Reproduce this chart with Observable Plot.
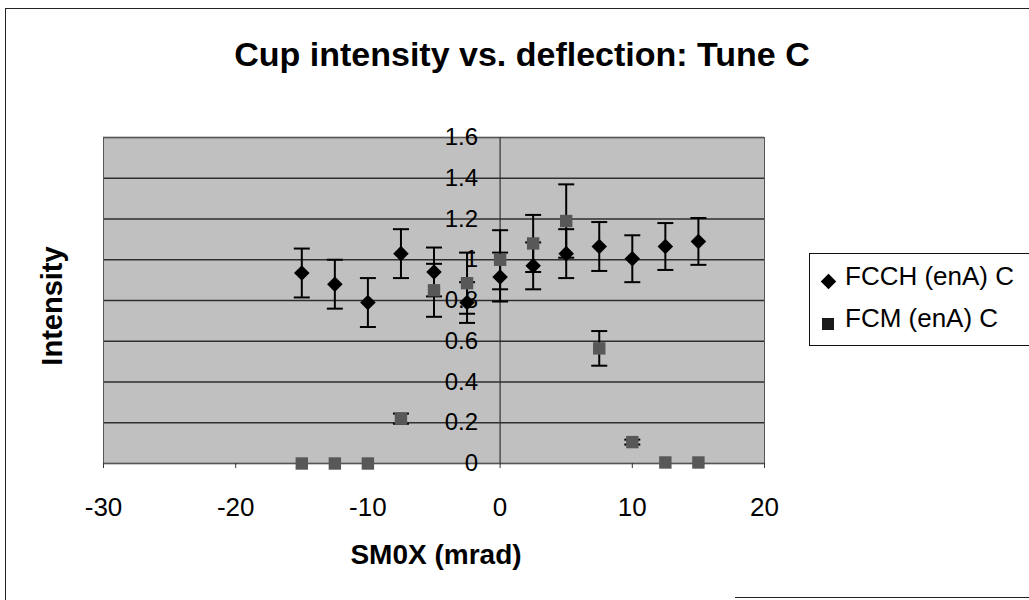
<!DOCTYPE html>
<html>
<head>
<meta charset="utf-8">
<script src="https://cdn.jsdelivr.net/npm/d3@7"></script>
<script src="https://cdn.jsdelivr.net/npm/@observablehq/plot@0.6"></script>
<style>
  html, body { margin: 0; padding: 0; background: #fff; overflow: hidden; }
  #wrap { position: relative; width: 1029px; height: 600px; font-family: Arial, "Liberation Sans", sans-serif; color: #000; }
  #wrap svg { position: absolute; left: 0; top: 0; }
  .abs { position: absolute; white-space: nowrap; line-height: 1; }
  .centered { transform: translate(-50%, -50%); }
</style>
</head>
<body>
<div id="wrap"></div>
<script>
// ---- data ----
const xs = [-15, -12.5, -10, -7.5, -5, -2.5, 0, 2.5, 5, 7.5, 10, 12.5, 15];
const fcchValues = [0.935, 0.88, 0.79, 1.03, 0.94, 0.79, 0.915, 0.97, 1.03, 1.065, 1.005, 1.065, 1.09];
const fcchErrors = [0.12, 0.12, 0.12, 0.12, 0.12, 0.10, 0.12, 0.115, 0.12, 0.12, 0.115, 0.115, 0.115];
const fcmValues  = [0, 0, 0, 0.22, 0.85, 0.885, 1.0, 1.08, 1.19, 0.565, 0.105, 0.005, 0.005];
const fcmErrors  = [0, 0, 0, 0.025, 0.13, 0.15, 0.145, 0.14, 0.18, 0.085, 0.012, 0, 0];
const xTicks = [-30, -20, -10, 0, 10, 20];
const yTicks = [0, 0.2, 0.4, 0.6, 0.8, 1, 1.2, 1.4, 1.6];
const seriesNames = ["FCCH (enA) C", "FCM (enA) C"];
const titleText = "Cup intensity vs. deflection: Tune C";
const xLabel = "SM0X (mrad)";
const yLabel = "Intensity";

const fcch = xs.map((x, i) => ({x, y: fcchValues[i], e: fcchErrors[i]}));
const fcm = xs.map((x, i) => ({x, y: fcmValues[i], e: fcmErrors[i]}));
const fcmBars = fcm.filter(d => d.e > 0);

const capSymbol = {draw(ctx) { ctx.moveTo(-8, 0); ctx.lineTo(8, 0); }};

const chart = Plot.plot({
  width: 1029,
  height: 600,
  marginLeft: 103,
  marginRight: 265,
  marginTop: 137,
  marginBottom: 137,
  style: {fontFamily: 'Arial, "Liberation Sans", sans-serif', background: "transparent", color: "#000"},
  x: {domain: [-30, 20], axis: null},
  y: {domain: [0, 1.6], axis: null},
  marks: [
    Plot.frame({fill: "#c0c0c0", stroke: "none"}),
    Plot.ruleY(yTicks, {stroke: "#2e2e2e", strokeWidth: 1.6}),
    Plot.frame({stroke: "#555", strokeWidth: 1}),
    Plot.ruleX([0], {stroke: "#333", strokeWidth: 1.2}),
    Plot.axisX({ticks: xTicks, tickSize: 5, tickPadding: 29, fontSize: 26, label: null, tickFormat: d => String(d), stroke: "#333"}),
    Plot.text(yTicks, {x: 0, y: d => d, text: d => String(d), textAnchor: "end", dx: -22, fontSize: 24, fill: "#000"}),
    // FCCH error bars and markers
    Plot.ruleX(fcch, {x: "x", y1: d => d.y - d.e, y2: d => d.y + d.e, stroke: "#000", strokeWidth: 2}),
    Plot.dot(fcch, {x: "x", y: d => d.y + d.e, symbol: capSymbol, fill: "none", stroke: "#000", strokeWidth: 2}),
    Plot.dot(fcch, {x: "x", y: d => d.y - d.e, symbol: capSymbol, fill: "none", stroke: "#000", strokeWidth: 2}),
    Plot.dot(fcch, {x: "x", y: "y", symbol: "diamond2", r: 7, fill: "#000", stroke: "none"}),
    // FCM error bars and markers
    Plot.ruleX(fcmBars, {x: "x", y1: d => d.y - d.e, y2: d => d.y + d.e, stroke: "#000", strokeWidth: 2}),
    Plot.dot(fcmBars, {x: "x", y: d => d.y + d.e, symbol: capSymbol, fill: "none", stroke: "#000", strokeWidth: 2}),
    Plot.dot(fcmBars, {x: "x", y: d => d.y - d.e, symbol: capSymbol, fill: "none", stroke: "#000", strokeWidth: 2}),
    Plot.dot(fcm, {x: "x", y: "y", symbol: "square", r: 7, fill: "#585858", stroke: "none"})
  ]
});

const wrap = document.getElementById("wrap");

// outer chart border
const border = document.createElement("div");
border.style.cssText = "position:absolute;left:5px;top:8px;width:1100px;height:700px;border-top:1.5px solid #222;border-left:1.5px solid #222;";
wrap.appendChild(border);
const bottomLine = document.createElement("div");
bottomLine.style.cssText = "position:absolute;left:735px;top:597px;width:300px;height:0;border-top:1.5px solid #222;";
wrap.appendChild(bottomLine);

wrap.appendChild(chart);

function addText(txt, css, cls) {
  const el = document.createElement("div");
  el.className = "abs " + (cls || "");
  el.textContent = txt;
  el.style.cssText += css;
  wrap.appendChild(el);
  return el;
}

addText(titleText, "left:522px;top:54px;font-size:34px;font-weight:bold;", "centered");
addText(xLabel, "left:436px;top:555px;font-size:28px;font-weight:bold;", "centered");
addText(yLabel, "left:52px;top:306px;font-size:29px;font-weight:bold;transform:translate(-50%,-50%) rotate(-90deg);");

// legend
const legend = document.createElement("div");
legend.style.cssText = "position:absolute;left:809px;top:253px;width:230px;height:91px;border:1.5px solid #111;background:#fff;";
wrap.appendChild(legend);
const diamond = document.createElement("div");
diamond.style.cssText = "position:absolute;left:823px;top:276px;width:11px;height:11px;background:#000;transform:rotate(45deg);";
wrap.appendChild(diamond);
const sq = document.createElement("div");
sq.style.cssText = "position:absolute;left:822px;top:318px;width:12px;height:12px;background:#1a1a1a;";
wrap.appendChild(sq);
addText(seriesNames[0], "left:845px;top:263px;font-size:26px;");
addText(seriesNames[1], "left:845px;top:305px;font-size:26px;");
</script>
</body>
</html>
